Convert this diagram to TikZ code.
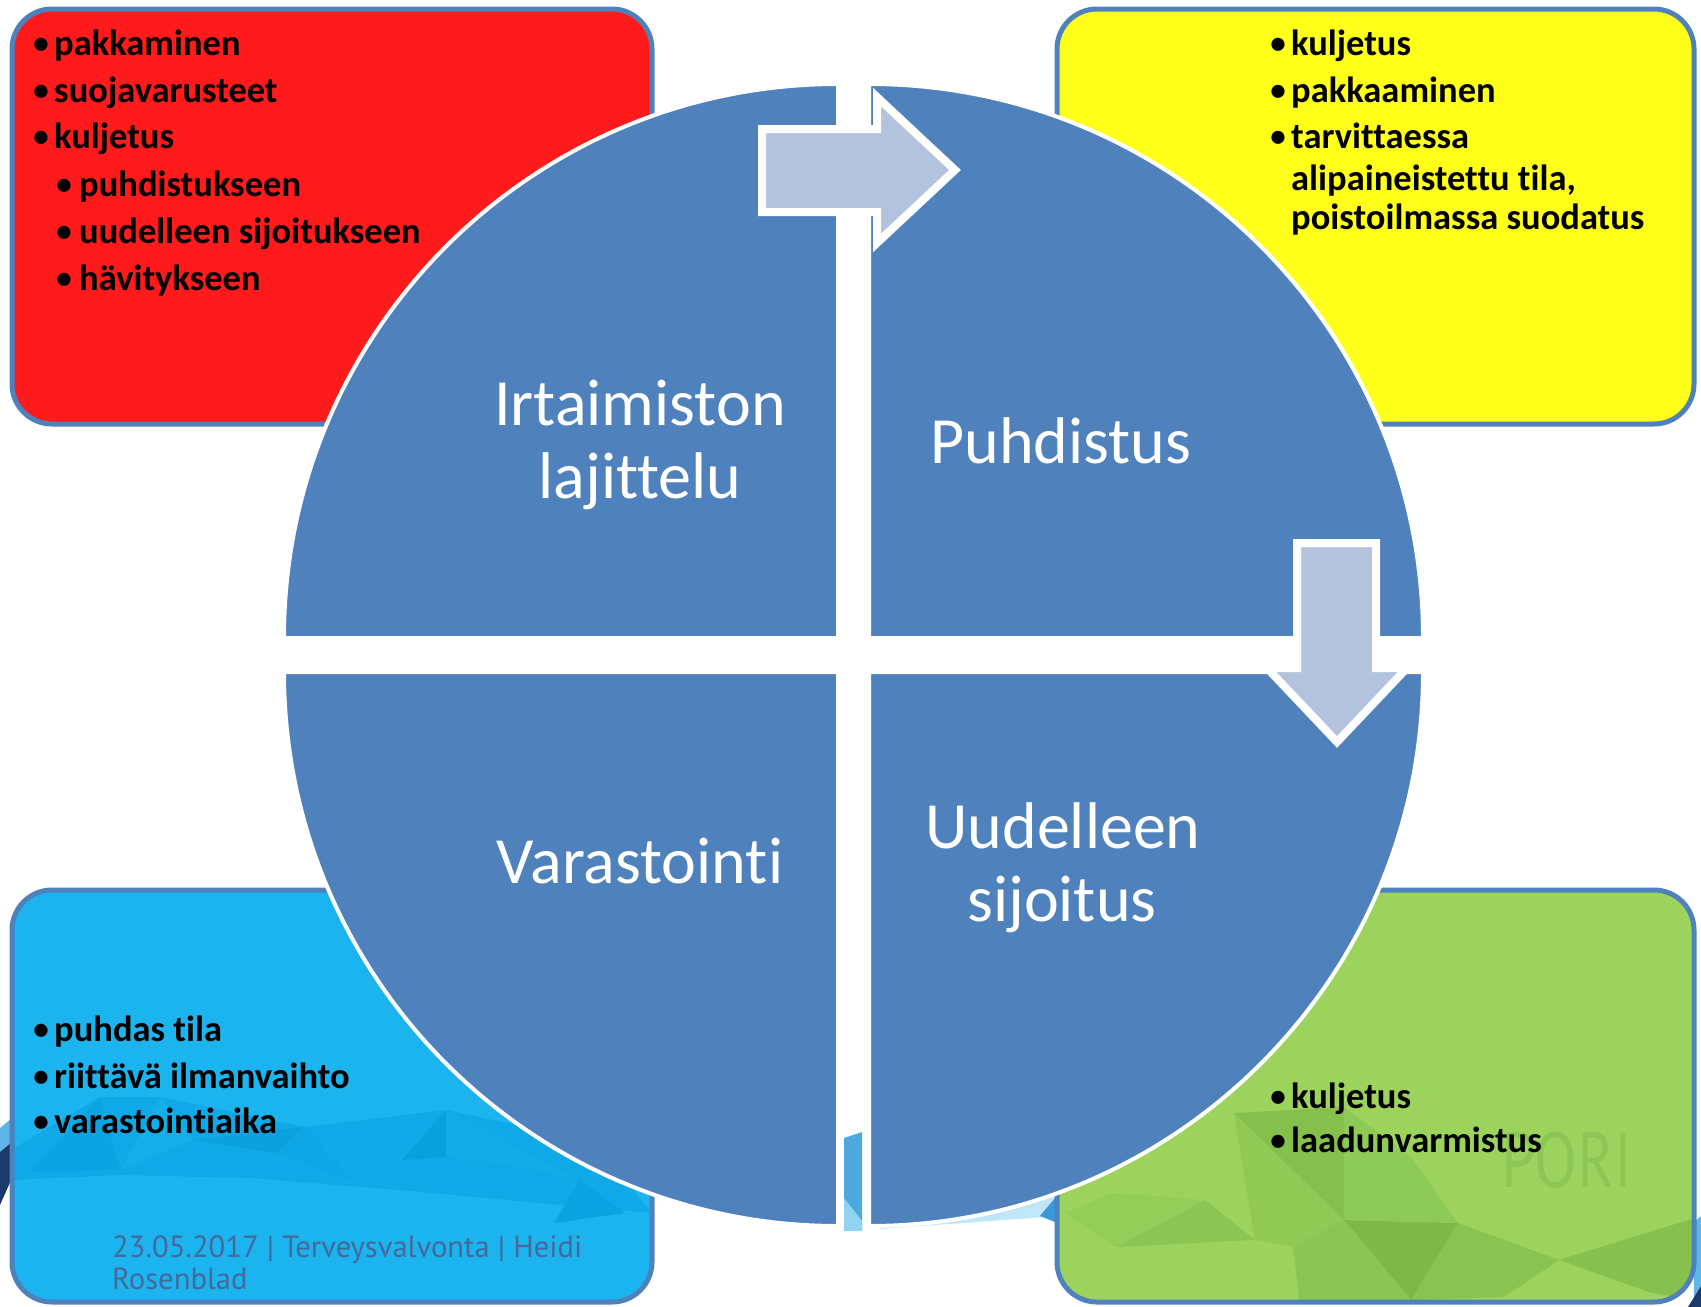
\documentclass[tikz,border=0pt]{standalone}
\usepackage{fontspec}
\setmainfont{Carlito}[Ligatures={NoCommon}]
\newfontfamily\footfont{PT Sans}
\newfontfamily\porifont[FakeStretch=0.8]{PT Sans}
\definecolor{quadblue}{HTML}{4F81BD}
\definecolor{boxborder}{HTML}{4F81BD}
\definecolor{arrowfill}{HTML}{B3C3DE}
\definecolor{redfill}{HTML}{FF1A1C}
\definecolor{yellowfill}{HTML}{FFFF1A}
\definecolor{cyanfill}{HTML}{1BB4EE}
\definecolor{greenfill}{HTML}{9BD35C}
\definecolor{foottext}{HTML}{46689A}
\definecolor{poritext}{HTML}{8CC755}
\begin{document}
\begin{tikzpicture}[x=1pt,y=-1pt,
  boxframe/.style={draw=boxborder, line width=5pt, rounded corners=40pt},
  quad/.style={fill=quadblue, draw=white, line width=4pt},
  bigarrow/.style={fill=arrowfill, draw=white, line width=8pt, line join=miter},
  lbl/.style={text=white, font=\fontsize{66}{73}\selectfont, anchor=base, inner sep=0pt},
  btxt/.style={font=\bfseries\fontsize{36.5}{44}\selectfont, text=black, anchor=base west, inner sep=0pt},
  bdot/.style={font=\bfseries\fontsize{31}{40}\selectfont, text=black, anchor=base, inner sep=0pt},
  foot/.style={font=\footfont\fontsize{30.6}{32}\selectfont, text=foottext, anchor=base west, inner sep=0pt}]
\useasboundingbox (0,0) rectangle (1701,1307);
\fill[white] (0,0) rectangle (1701,1307);

% slide background bits
\fill[fill={rgb,255:red,91;green,181;blue,229}] (0,1128) -- (12,1118) -- (12,1142) -- (0,1152) -- cycle;
\fill[fill={rgb,255:red,27;green,58;blue,107}] (0,1152) -- (12,1142) -- (12,1178) -- (0,1205) -- cycle;
\fill[fill={rgb,255:red,93;green,184;blue,232}] (1694,1222) -- (1701,1216) -- (1701,1288) -- (1694,1298) -- cycle;
\fill[fill={rgb,255:red,27;green,58;blue,107}] (1688,1307) -- (1701,1286) -- (1701,1307) -- cycle;
\fill[fill={rgb,255:red,77;green,168;blue,222}] (844,1138) -- (862,1132) -- (862,1230) -- (844,1230) -- cycle;
\fill[fill={rgb,255:red,144;green,211;blue,243}] (844,1198) -- (862,1221) -- (862,1231) -- (844,1231) -- cycle;
\fill[fill={rgb,255:red,191;green,231;blue,248}] (880,1229) -- (1045,1217) -- (1060,1205) -- (1060,1170) -- (880,1170) -- cycle;
\fill[fill={rgb,255:red,58;green,154;blue,216}] (1040,1216) -- (1060,1192) -- (1060,1224) -- cycle;

% red box
\fill[redfill, rounded corners=40pt] (12,9) rectangle (652,424);
\draw[boxframe] (12,9) rectangle (652,424);
% yellow box
\fill[yellowfill, rounded corners=40pt] (1057,9) rectangle (1694,424);
\draw[boxframe] (1057,9) rectangle (1694,424);
% cyan box with facets
\fill[cyanfill, rounded corners=40pt] (12,890) rectangle (652,1302);
\begin{scope}
  \clip[rounded corners=40pt] (12,890) rectangle (652,1302);
  \fill[fill={rgb,255:red,16;green,169;blue,231}] (11,1180) -- (11,1150) -- (100,1097) -- (161,1097) -- (304,1127) -- (446,1110) -- (540,1130) -- (620,1175) -- (652,1213) -- (560,1205) -- (400,1190) -- (250,1178) -- (120,1175) -- cycle;
  \fill[fill={rgb,255:red,12;green,163;blue,226}] (100,1097) -- (120,1170) -- (30,1172) -- cycle;
  \fill[fill={rgb,255:red,20;green,174;blue,234}] (161,1097) -- (120,1170) -- (192,1140) -- cycle;
  \fill[fill={rgb,255:red,11;green,161;blue,223}] (192,1140) -- (277,1153) -- (304,1127) -- cycle;
  \fill[fill={rgb,255:red,14;green,166;blue,229}] (277,1153) -- (357,1183) -- (304,1127) -- cycle;
  \fill[fill={rgb,255:red,9;green,160;blue,222}] (402,1160) -- (446,1110) -- (446,1157) -- cycle;
  \fill[fill={rgb,255:red,18;green,171;blue,232}] (446,1157) -- (522,1167) -- (580,1180) -- (446,1110) -- cycle;
  \fill[fill={rgb,255:red,10;green,162;blue,224}] (580,1180) -- (625,1213) -- (554,1223) -- cycle;
\end{scope}
\draw[boxframe] (12,890) rectangle (652,1302);
% green box with facets
\fill[greenfill, rounded corners=40pt] (1057,890) rectangle (1694,1302);
\begin{scope}
  \clip[rounded corners=40pt] (1057,890) rectangle (1694,1302);
  \fill[fill={rgb,255:red,134;green,192;blue,76}] (1234,1113) -- (1344,1107) -- (1344,1220) -- cycle;
  \fill[fill={rgb,255:red,144;green,202;blue,85}] (1234,1113) -- (1344,1220) -- (1293,1247) -- (1255,1240) -- cycle;
  \fill[fill={rgb,255:red,127;green,184;blue,69}] (1344,1220) -- (1458,1223) -- (1411,1300) -- cycle;
  \fill[fill={rgb,255:red,142;green,202;blue,86}] (1344,1107) -- (1411,1157) -- (1458,1223) -- (1344,1220) -- cycle;
  \fill[fill={rgb,255:red,140;green,198;blue,82}] (1116,1247) -- (1205,1200) -- (1255,1240) -- cycle;
  \fill[fill={rgb,255:red,147;green,206;blue,89}] (1065,1213) -- (1112,1193) -- (1205,1200) -- (1116,1247) -- cycle;
  \fill[fill={rgb,255:red,138;green,196;blue,80}] (1458,1223) -- (1559,1260) -- (1504,1297) -- (1411,1300) -- cycle;
  \fill[fill={rgb,255:red,134;green,193;blue,77}] (1559,1260) -- (1698,1217) -- (1698,1300) -- (1652,1293) -- cycle;
  \fill[fill={rgb,255:red,139;green,197;blue,82}] (1293,1247) -- (1344,1220) -- (1411,1300) -- (1300,1304) -- cycle;
\end{scope}
\draw[boxframe] (1057,890) rectangle (1694,1302);
\node[font=\porifont\fontsize{78}{78}\selectfont, text=poritext, anchor=base, inner sep=0pt] (pori) at (1567,1187) {PORI};

% red box texts
\node[bdot] (rd1) at (41,53) {•};   \node[btxt] (r1) at (54,55) {pakkaminen};
\node[bdot] (rd2) at (41,100) {•};  \node[btxt] (r2) at (54,102) {suojavarusteet};
\node[bdot] (rd3) at (41,146) {•};  \node[btxt] (r3) at (54,148) {kuljetus};
\node[bdot] (rd4) at (64,194) {•};  \node[btxt] (r4) at (79,196) {puhdistukseen};
\node[bdot] (rd5) at (64,241) {•};  \node[btxt] (r5) at (79,243) {uudelleen sijoitukseen};
\node[bdot] (rd6) at (64,288) {•};  \node[btxt] (r6) at (79,290) {hävitykseen};
% yellow box texts
\node[bdot] (yd1) at (1278,53) {•};  \node[btxt] (y1) at (1291,55) {kuljetus};
\node[bdot] (yd2) at (1278,100) {•}; \node[btxt] (y2) at (1291,102) {pakkaaminen};
\node[bdot] (yd3) at (1278,146) {•}; \node[btxt] (y3) at (1291,148) {tarvittaessa};
\node[btxt] (y4) at (1291,190) {alipaineistettu tila,};
\node[btxt] (y5) at (1291,229) {poistoilmassa suodatus};
% cyan box texts
\node[bdot] (bd1) at (41,1039) {•}; \node[btxt] (b1) at (54,1041) {puhdas tila};
\node[bdot] (bd2) at (41,1086) {•}; \node[btxt] (b2) at (54,1088) {riittävä ilmanvaihto};
\node[bdot] (bd3) at (41,1131) {•}; \node[btxt] (b3) at (54,1133) {varastointiaika};
% green box texts
\node[bdot] (gd1) at (1278,1106) {•}; \node[btxt] (g1) at (1291,1108) {kuljetus};
\node[bdot] (gd2) at (1278,1150) {•}; \node[btxt] (g2) at (1291,1152) {laadunvarmistus};
% footer
\node[foot] (f1) at (112,1257) {23.05.2017 | Terveysvalvonta | Heidi};
\node[foot] (f2) at (112,1289) {Rosenblad};

% quadrants
\draw[quad] (838,638) -- (284,638) arc[start angle=180, end angle=270, radius=554] -- cycle;
\draw[quad] (869,638) -- (869,84) arc[start angle=270, end angle=360, radius=554] -- cycle;
\draw[quad] (869,672) -- (1423,672) arc[start angle=0, end angle=90, radius=554] -- cycle;
\draw[quad] (838,672) -- (838,1226) arc[start angle=90, end angle=180, radius=554] -- cycle;

% arrows
\draw[bigarrow] (762,129) -- (877,129) -- (877,97) -- (955,170) -- (877,243) -- (877,212) -- (762,212) -- cycle;
\draw[bigarrow] (1297,543) -- (1376,543) -- (1376,668) -- (1407,668) -- (1337,742) -- (1267,668) -- (1297,668) -- cycle;

% labels
\node[lbl] (l1a) at (640,425) {Irtaimiston};
\node[lbl] (l1b) at (640,498) {lajittelu};
\node[lbl] (l2) at (1061,463) {Puhdistus};
\node[lbl] (l3) at (640,883) {Varastointi};
\node[lbl] (l4a) at (1063,848) {Uudelleen};
\node[lbl] (l4b) at (1062,921) {sijoitus};
\end{tikzpicture}
\end{document}
